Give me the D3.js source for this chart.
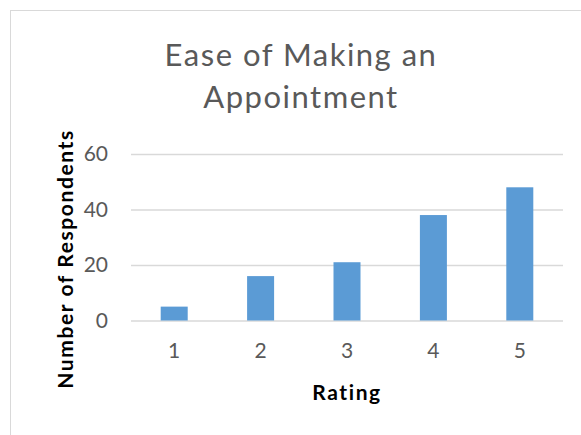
<!DOCTYPE html>
<html>
<head>
<meta charset="utf-8">
<script src="https://cdn.jsdelivr.net/npm/d3@7"></script>
<style>
  body { margin: 0; background: #fff; }
  text { font-family: Lato, "Open Sans", sans-serif; }
</style>
</head>
<body>
<svg id="chart" width="581" height="435"></svg>
<script>
const ratings = ["1", "2", "3", "4", "5"]
const respondents = [5, 16, 21, 38, 48]
const yTicks = [0, 20, 40, 60]
const titleLines = ["Ease of Making an", "Appointment"]

const svg = d3.select("#chart")
const width = 581
const height = 435

const layout = {
    left: 131,
    right: 563,
    top: 154,
    bottom: 320.5,
    barColor: "#5b9bd5",
    gridColor: "#d9d9d9",
    textColor: "#595959",
    labelColor: "#000",
    tickFont: "21px",
    labelFont: "21px",
    labelSpacing: "1.6px",
}

// chart frame
svg.append("rect")
    .attr("x", 10.5).attr("y", 10.5)
    .attr("width", width).attr("height", height)
    .attr("fill", "#fff")
    .attr("stroke", "#d9d9d9")

const x = d3.scaleBand()
    .domain(ratings)
    .range([layout.left, layout.right])
    .paddingInner(0.6875)
    .paddingOuter(0.34375)

const y = d3.scaleLinear()
    .domain([0, 60])
    .range([layout.bottom, layout.top])

// gridlines
svg.append("g")
    .attr("transform", `translate(${layout.left},0)`)
    .call(d3.axisLeft(y).tickValues(yTicks).tickSize(-(layout.right - layout.left)).tickFormat(""))
    .call(g => g.select(".domain").remove())
    .call(g => g.selectAll("line").attr("stroke", layout.gridColor).attr("stroke-width", 1.5))

// y tick labels
svg.append("g")
    .attr("transform", `translate(${layout.left - 23},0)`)
    .call(d3.axisLeft(y).tickValues(yTicks).tickSize(0).tickPadding(0))
    .call(g => g.select(".domain").remove())
    .call(g => g.selectAll("text")
        .attr("fill", layout.textColor)
        .style("font-size", layout.tickFont))

// bars
svg.append("g")
    .selectAll("rect")
    .data(respondents)
    .join("rect")
    .attr("x", (d, i) => x(ratings[i]))
    .attr("y", d => y(d))
    .attr("width", x.bandwidth())
    .attr("height", d => y(0) - y(d))
    .attr("fill", layout.barColor)

// x tick labels
svg.append("g")
    .attr("transform", `translate(0,343)`)
    .call(d3.axisBottom(x).tickSize(0).tickPadding(0))
    .call(g => g.select(".domain").remove())
    .call(g => g.selectAll("text")
        .attr("fill", layout.textColor)
        .style("font-size", layout.tickFont))

// title
svg.append("text")
    .attr("text-anchor", "middle")
    .attr("fill", layout.textColor)
    .style("font-size", "31px")
    .style("letter-spacing", "1.5px")
    .selectAll("tspan")
    .data(titleLines)
    .join("tspan")
    .attr("x", 301)
    .attr("y", (d, i) => 66 + i * 42)
    .text(d => d)

// axis titles
svg.append("text")
    .attr("x", (layout.left + layout.right) / 2)
    .attr("y", 400)
    .attr("text-anchor", "middle")
    .attr("fill", layout.labelColor)
    .style("font-size", layout.labelFont)
    .style("font-weight", "bold")
    .style("letter-spacing", layout.labelSpacing)
    .text("Rating")

svg.append("text")
    .attr("transform", `translate(73,259) rotate(-90)`)
    .attr("text-anchor", "middle")
    .attr("fill", layout.labelColor)
    .style("font-size", layout.labelFont)
    .style("font-weight", "bold")
    .style("letter-spacing", layout.labelSpacing)
    .text("Number of Respondents")
</script>
</body>
</html>
